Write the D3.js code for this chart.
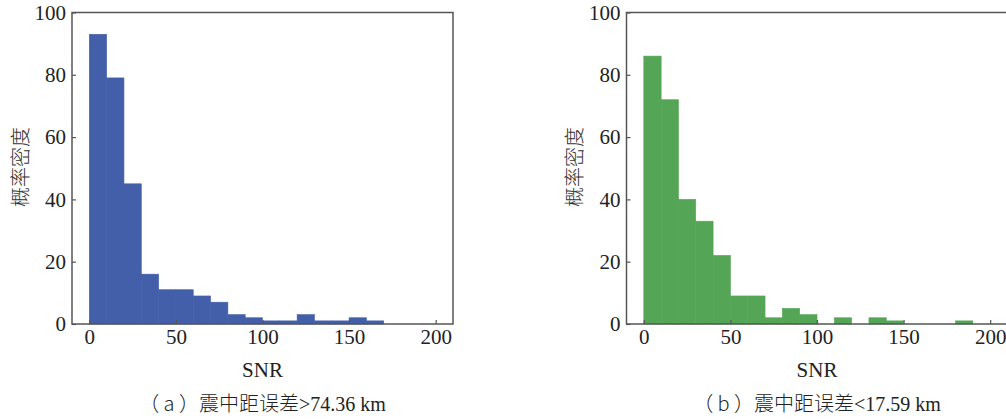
<!DOCTYPE html>
<head>
  <meta charset="utf-8" />
  <script src="https://d3js.org/d3.v7.min.js"></script>
  <title>SNR histograms</title>
</head>
<style>
  body {
    margin: 0;
    background: #fff;
  }
  .tick text {
    font-family: "Liberation Serif", "Times New Roman", serif;
    font-size: 21px;
    fill: #222;
  }
  .tick line {
    stroke: #555;
    stroke-width: 1.2;
  }
</style>
<body>
  <div id="container"></div>
  <script>
    // bins are 10 SNR units wide, starting at 0
    var binWidth = 10;
    var countsA = [93, 79, 45, 16, 11, 11, 9, 7, 3, 2, 1, 1, 3, 1, 1, 2, 1];
    var countsB = [86, 72, 40, 33, 22, 9, 9, 2, 5, 3, 0, 2, 0, 2, 1, 0, 0, 0, 1];
    var xTicks = [0, 50, 100, 150, 200];
    var yTicks = [0, 20, 40, 60, 80, 100];
    var yLabel = "概率密度";
    var xLabel = "SNR";
    var captionA = ["（ a ）", "震中距误差", ">74.36 km"];
    var captionB = ["（ b ）", "震中距误差", "<17.59 km"];

    var W = 1006,
      H = 419;

    var svg = d3
      .select("#container")
      .append("svg")
      .attr("width", W)
      .attr("height", H);

    var cjk = "'Noto Sans CJK SC', sans-serif";
    var serif = "'Liberation Serif', 'Times New Roman', serif";

    function drawPanel(left, counts, color, caption) {
      var width = 381,
        top = 12.5,
        bottom = 324;

      var x = d3.scaleLinear().domain([-10, 210]).range([left, left + width]);
      var y = d3.scaleLinear().domain([0, 100]).range([bottom, top]);

      var g = svg.append("g");

      g.selectAll("rect.bar")
        .data(counts)
        .enter()
        .append("rect")
        .attr("class", "bar")
        .attr("x", (d, i) => x(i * binWidth))
        .attr("width", (d, i) => x((i + 1) * binWidth) - x(i * binWidth))
        .attr("y", (d) => y(d))
        .attr("height", (d) => y(0) - y(d))
        .style("fill", color)
        .style("stroke", color)
        .style("stroke-width", 0.6);

      // frame
      g.append("rect")
        .attr("x", left)
        .attr("y", top)
        .attr("width", width)
        .attr("height", bottom - top)
        .style("fill", "none")
        .style("stroke", "#555")
        .style("stroke-width", 1.5);

      var xAxis = g
        .append("g")
        .attr("transform", "translate(0," + bottom + ")")
        .call(
          d3.axisBottom(x).tickValues(xTicks).tickSize(-4).tickPadding(5)
        );
      xAxis.select(".domain").remove();

      var yAxis = g
        .append("g")
        .attr("transform", "translate(" + left + ",0)")
        .call(d3.axisLeft(y).tickValues(yTicks).tickSize(-4).tickPadding(6));
      yAxis.select(".domain").remove();

      g.selectAll(".tick text").attr("font-family", serif).style("font-family", serif);

      g.append("text")
        .attr("transform", "translate(" + (left - 53) + "," + 167 + ") rotate(-90)")
        .attr("text-anchor", "middle")
        .attr("dominant-baseline", "central")
        .style("font-family", cjk)
        .style("font-size", "20px")
        .style("font-weight", 300)
        .style("fill", "#333")
        .text(yLabel);

      g.append("text")
        .attr("x", x(100))
        .attr("y", 377)
        .attr("text-anchor", "middle")
        .style("font-family", serif)
        .style("font-size", "21px")
        .style("fill", "#222")
        .text(xLabel);

      var cap = g
        .append("text")
        .attr("x", x(100))
        .attr("y", 411)
        .attr("text-anchor", "middle")
        .style("font-size", "20px")
        .style("fill", "#222");
      cap.append("tspan").style("font-family", cjk).style("font-weight", 300).text(caption[0]);
      cap.append("tspan").style("font-family", cjk).style("font-weight", 300).text(caption[1]);
      cap.append("tspan").style("font-family", serif).text(caption[2]);
    }

    drawPanel(72, countsA, "#435fa9", captionA);
    drawPanel(626.5, countsB, "#55a556", captionB);
  </script>
</body>
